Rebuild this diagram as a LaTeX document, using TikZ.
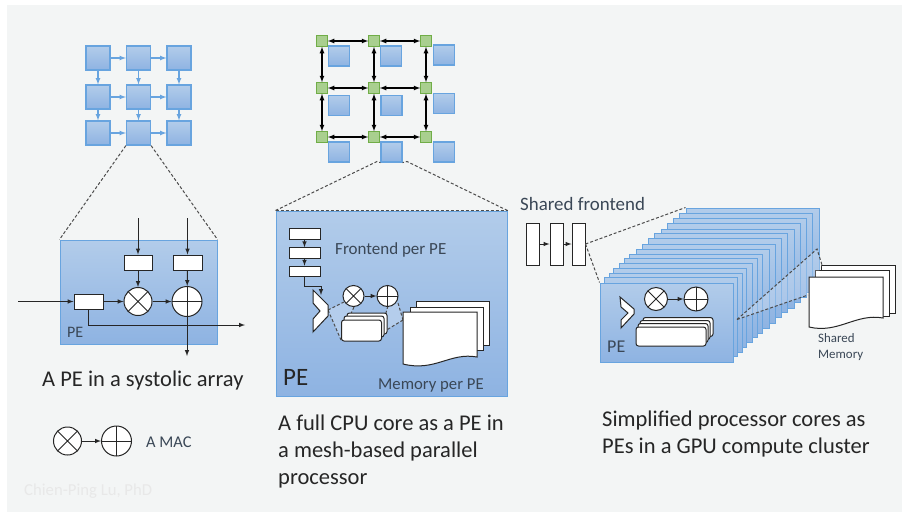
\documentclass[tikz,border=0pt]{standalone}
\usepackage{fontspec}
\setmainfont{Carlito}
\usepackage{tikz}
\usetikzlibrary{calc}

\definecolor{pageback}{HTML}{F3F5F5}
\definecolor{blueedge}{HTML}{68A4DF}
\definecolor{bluetop}{HTML}{B2CCEA}
\definecolor{bluebot}{HTML}{8EB3E2}
\definecolor{greenedge}{HTML}{70AD47}
\definecolor{greenfill}{HTML}{A9CF8F}
\definecolor{slate}{HTML}{3A4756}
\definecolor{inktext}{HTML}{262626}
\definecolor{bluelight}{HTML}{B4CDEC}

\tikzset{
  block/.style={draw=blueedge,line width=1pt,top color=bluetop,bottom color=bluebot,inner sep=0pt},
  cell/.style={block,line width=1.2pt,minimum width=24pt,minimum height=24pt},
  memcell/.style={block,line width=1.2pt,minimum width=21pt,minimum height=20pt},
  router/.style={draw=greenedge,line width=1.2pt,fill=greenfill,inner sep=0pt,minimum width=10.5pt,minimum height=10.5pt},
  cluster/.style={block,minimum width=133pt,minimum height=79pt},
  reg/.style={draw=black!85,line width=1pt,fill=white,inner sep=0pt},
  corereg/.style={reg,rounded corners=2.5pt},
  mulop/.style={draw=black!85,line width=1pt,fill=white,circle,inner sep=0pt,
    path picture={\draw[black!85,line width=1pt] (path picture bounding box.north west) -- (path picture bounding box.south east)
      (path picture bounding box.south west) -- (path picture bounding box.north east);}},
  addop/.style={draw=black!85,line width=1pt,fill=white,circle,inner sep=0pt,
    path picture={\draw[black!85,line width=1pt] (path picture bounding box.north) -- (path picture bounding box.south)
      (path picture bounding box.west) -- (path picture bounding box.east);}},
  wire/.style={draw=black!85,line width=1pt,-latex},
  gridwire/.style={draw=blueedge,line width=1.2pt,-latex},
  meshwire/.style={draw=black,line width=1.2pt,latex-latex},
  zoomline/.style={draw=black!70,line width=1pt,densely dashed},
  label/.style={inner sep=0pt,anchor=west,text=slate},
  caption/.style={inner sep=0pt,anchor=west,text=inktext,align=left,font=\fontsize{22.5}{27}\selectfont}
}

\begin{document}
\begin{tikzpicture}[x=1pt,y=-1pt]
  \useasboundingbox (0,0) rectangle (902,512);
  \fill[white] (0,0) rectangle (902,512);
  \fill[pageback] (7,5) rectangle (902,512);

  \matrix at (138.5,95.5) [column sep=15.3pt] {
    \node[cell] (pe11) {}; & \node[cell] (pe12) {}; & \node[cell] (pe13) {}; \\[13.8pt]
    \node[cell] (pe21) {}; & \node[cell] (pe22) {}; & \node[cell] (pe23) {}; \\[10.8pt]
    \node[cell] (pe31) {}; & \node[cell] (pe32) {}; & \node[cell] (pe33) {}; \\
  };
  \draw[gridwire] (pe11) -- (pe12);
  \draw[gridwire] (pe12) -- (pe13);
  \draw[gridwire] (pe21) -- (pe22);
  \draw[gridwire] (pe22) -- (pe23);
  \draw[gridwire] (pe31) -- (pe32);
  \draw[gridwire] (pe32) -- (pe33);
  \draw[gridwire] (pe11) -- (pe21);
  \draw[gridwire] (pe21) -- (pe31);
  \draw[gridwire] (pe12) -- (pe22);
  \draw[gridwire] (pe22) -- (pe32);
  \draw[gridwire] (pe13) -- (pe23);
  \draw[gridwire] (pe23) -- (pe33);

  \node[block,minimum width=157pt,minimum height=104pt] (sysblock) at (138.5,292) {};
  \draw[zoomline] (pe32.south west) -- (sysblock.north west);
  \draw[zoomline] (pe32.south east) -- (sysblock.north east);

  \node[reg,minimum width=28pt,minimum height=15pt] (regtopa) at (138,262.5) {};
  \node[reg,minimum width=29pt,minimum height=15pt] (regtopb) at (187.5,262.5) {};
  \node[reg,minimum width=29pt,minimum height=15pt] (reginput) at (88.5,301.5) {};
  \node[mulop,minimum size=28pt] (sysmul) at (138,301.5) {};
  \node[addop,minimum size=30pt] (sysadd) at (187,301.5) {};
  \coordinate (ina) at (138,218);
  \coordinate (inb) at (187.5,218);
  \coordinate (inleft) at (18,301.5);
  \coordinate (outright) at (245,325);
  \coordinate (outdown) at (187,356);
  \draw[wire] (ina) -- (regtopa);
  \draw[wire] (inb) -- (regtopb);
  \draw[wire] (regtopa) -- (sysmul);
  \draw[wire] (regtopb) -- (sysadd);
  \draw[wire] (inleft) -- (reginput);
  \draw[wire] (reginput) -- (sysmul);
  \draw[wire] (sysmul) -- (sysadd);
  \draw[wire] (reginput.south) |- (outright);
  \draw[wire] (sysadd.south) -- (outdown);
  \node[label,font=\fontsize{16}{18}\selectfont] (syspe) at (67,332) {PE};
  \node[caption] (syscap) at (42,380.5) {A PE in a systolic array};

  \node[mulop,minimum size=28pt] (macmul) at (67.5,441) {};
  \node[addop,minimum size=30pt] (macadd) at (116.5,441) {};
  \draw[wire] (macmul) -- (macadd);
  \node[label,font=\fontsize{16.4}{18}\selectfont] (maclabel) at (146,442) {A MAC};
  \node[label,text=black!9,font=\fontsize{16.7}{18}\selectfont] (credit) at (24,491) {Chien-Ping Lu, PhD};

  \node[memcell] (mem11) at (339,56) {};
  \node[memcell] (mem12) at (391,56) {};
  \node[memcell] (mem13) at (444,55) {};
  \node[memcell] (mem21) at (339,105.5) {};
  \node[memcell] (mem22) at (391.5,105.5) {};
  \node[memcell] (mem23) at (444,103.5) {};
  \node[memcell] (mem31) at (339,152) {};
  \node[memcell] (mem32) at (391.5,152) {};
  \node[memcell] (mem33) at (444,152) {};
  \matrix at (374,89) [column sep=40.3pt] {
    \node[router] (r11) {}; & \node[router] (r12) {}; & \node[router] (r13) {}; \\[35.3pt]
    \node[router] (r21) {}; & \node[router] (r22) {}; & \node[router] (r23) {}; \\[37.3pt]
    \node[router] (r31) {}; & \node[router] (r32) {}; & \node[router] (r33) {}; \\
  };
  \draw[meshwire] (r11) -- (r12);
  \draw[meshwire] (r12) -- (r13);
  \draw[meshwire] (r21) -- (r22);
  \draw[meshwire] (r22) -- (r23);
  \draw[meshwire] (r31) -- (r32);
  \draw[meshwire] (r32) -- (r33);
  \draw[meshwire] (r11) -- (r21);
  \draw[meshwire] (r21) -- (r31);
  \draw[meshwire] (r12) -- (r22);
  \draw[meshwire] (r22) -- (r32);
  \draw[meshwire] (r13) -- (r23);
  \draw[meshwire] (r23) -- (r33);

  \node[block,minimum width=231pt,minimum height=185pt] (cpublock) at (391.5,303.5) {};
  \coordinate (kneea) at (377,161.5);
  \coordinate (kneeb) at (407,161.5);
  \draw[zoomline] (cpublock.north west) -- (kneea) -- (mem32.south west);
  \draw[zoomline] (cpublock.north east) -- (kneeb) -- (mem32.south east);
  \draw[zoomline] (cpublock.north west) -- (cpublock.north east);

  \node[reg,minimum width=31pt,minimum height=10.5pt] (fetcha) at (304.5,234) {};
  \node[reg,minimum width=31pt,minimum height=10.5pt] (fetchb) at (304.5,253) {};
  \node[reg,minimum width=31pt,minimum height=10.5pt] (fetchc) at (304.5,271.5) {};
  \draw[wire] (fetcha) -- (fetchb);
  \draw[wire] (fetchb) -- (fetchc);
  \node[label,font=\fontsize{17}{18}\selectfont] (frontlabel) at (335,250) {Frontend per PE};

  \coordinate (tipa) at (328,310);
  \coordinate (fana) at (344,302);
  \coordinate (fanb) at (354,307);
  \coordinate (fanc) at (350,316);
  \coordinate (fand) at (341,340);
  \coordinate (fane) at (388,306);
  \coordinate (fanf) at (385,316);
  \coordinate (fang) at (398,303);
  \coordinate (fanh) at (403,320);
  \coordinate (fani) at (385,331);
  \fill[bluelight] (tipa) -- (fana) -- (fanb) -- (fanc) -- (fand) -- cycle;
  \fill[bluelight] (fane) -- (fang) -- (fanh) -- (fani) -- (fanf) -- cycle;
  \draw[zoomline] (tipa) -- (fana);
  \draw[zoomline] (tipa) -- (fand);
  \draw[zoomline] (fanb) -- (fanc);
  \draw[zoomline] (fane) -- (fanf);
  \draw[zoomline] (fang) -- (fanh);
  \draw[zoomline] (fanh) -- (fani);

  \draw[reg] (313,290) -- (328,305) -- (328,316) -- (313,332) -- (313,319) -- (320,311) -- (313,303) -- cycle;
  \coordinate (splitin) at (321,295);
  \coordinate (splitknee) at (321,286);
  \draw[wire] (fetchc.south) |- (splitknee) -- (splitin);
  \node[mulop,minimum size=21pt] (cpumul) at (353.5,296) {};
  \node[addop,minimum size=21pt] (cpuadd) at (387.5,296) {};
  \draw[wire] (cpumul) -- (cpuadd);
  \node[corereg,minimum width=40pt,minimum height=21pt] (coreregc) at (367,323.5) {};
  \node[corereg,minimum width=40pt,minimum height=21pt] (coreregb) at (364,326.5) {};
  \node[corereg,minimum width=40pt,minimum height=21pt] (corerega) at (361.5,330.5) {};

  \draw[reg] (416,301) -- (489,301) -- (489,345) -- (416,345) -- cycle;
  \draw[reg] (410,307) -- (483,307) -- (483,350) -- (410,350) -- cycle;
  \draw[reg] (403,312) -- (477,312) -- (477,357) .. controls (450,352) and (435,372) .. (403,364) -- cycle;
  \node[label,font=\fontsize{16.7}{18}\selectfont] (memlabel) at (378,385) {Memory per PE};
  \node[label,text=inktext,font=\fontsize{25}{28}\selectfont] (cpupe) at (283,377) {PE};
  \node[caption] (cpucap) at (278,451) {A full CPU core as a PE in\\a mesh-based parallel\\processor};

  \node[label,font=\fontsize{18.9}{20}\selectfont] (sharedlabel) at (520,204) {Shared frontend};
  \node[reg,minimum width=12.5pt,minimum height=42pt] (sharea) at (533,244) {};
  \node[reg,minimum width=13pt,minimum height=42pt] (shareb) at (556.5,244) {};
  \node[reg,minimum width=13pt,minimum height=42pt] (sharec) at (578.5,244) {};
  \draw[wire] (sharea) -- (shareb);
  \draw[wire] (shareb) -- (sharec);

  \node[cluster] (layerp) at (752.5,247.5) {};
  \node[cluster] (layero) at (746,252.5) {};
  \node[cluster] (layern) at (740,258) {};
  \node[cluster] (layerm) at (734,263) {};
  \node[cluster] (layerl) at (727.5,268.5) {};
  \node[cluster] (layerk) at (721,273) {};
  \node[cluster] (layerj) at (715,278) {};
  \node[cluster] (layeri) at (709,283.5) {};
  \node[cluster] (layerh) at (702.5,289) {};
  \node[cluster] (layerg) at (696,293.5) {};
  \node[cluster] (layerf) at (691,298) {};
  \node[cluster] (layere) at (686,303) {};
  \node[cluster] (layerd) at (680,308) {};
  \node[cluster] (layerc) at (676,313) {};
  \node[cluster] (layerb) at (671,317) {};
  \node[cluster] (layera) at (666.5,322.5) {};
  \draw[zoomline] (sharec.east) -- (layerp.north west);
  \draw[zoomline] (sharec.east) -- (layera.north west);

  \draw[reg] (821,265) -- (895,265) -- (895,313) -- (821,313) -- cycle;
  \draw[reg] (815,270) -- (889,270) -- (889,316) -- (815,316) -- cycle;
  \coordinate (clusterfan) at (737,319.5);
  \coordinate (fantop) at (817,249);
  \coordinate (fanmid) at (822,265);
  \coordinate (fanlow) at (808,295);
  \fill[white,fill opacity=.22] (clusterfan) -- (fantop) -- (fanmid) -- (fanlow) -- cycle;
  \draw[zoomline] (clusterfan) -- (fantop) -- (fanmid);
  \draw[zoomline] (clusterfan) -- (fanlow);
  \draw[reg] (809,277) -- (883,277) -- (883,318) .. controls (856,313) and (838,334) .. (809,327) -- cycle;
  \node[label,font=\fontsize{12.9}{15.5}\selectfont,align=left] (sharedmem) at (818,347) {Shared\\Memory};

  \draw[reg] (620,297) -- (634,309) -- (634,314) -- (621,328) -- (621,320) -- (628,313) -- (621,307) -- cycle;
  \node[mulop,minimum size=23pt] (gpumul) at (656,299) {};
  \node[addop,minimum size=24pt] (gpuadd) at (696,299) {};
  \draw[wire] (gpumul) -- (gpuadd);
  \node[corereg,minimum width=70pt,minimum height=19pt] (gpurege) at (678,327) {};
  \node[corereg,minimum width=70pt,minimum height=19pt] (gpuregd) at (675,330) {};
  \node[corereg,minimum width=70pt,minimum height=19pt] (gpuregc) at (673,333) {};
  \node[corereg,minimum width=70pt,minimum height=19pt] (gpuregb) at (671,336.5) {};
  \node[label,font=\fontsize{18}{20}\selectfont] (gpupe) at (607,347) {PE};
  \node[caption] (gpucap) at (602,434) {Simplified processor cores as\\PEs in a GPU compute cluster};
\end{tikzpicture}
\end{document}
